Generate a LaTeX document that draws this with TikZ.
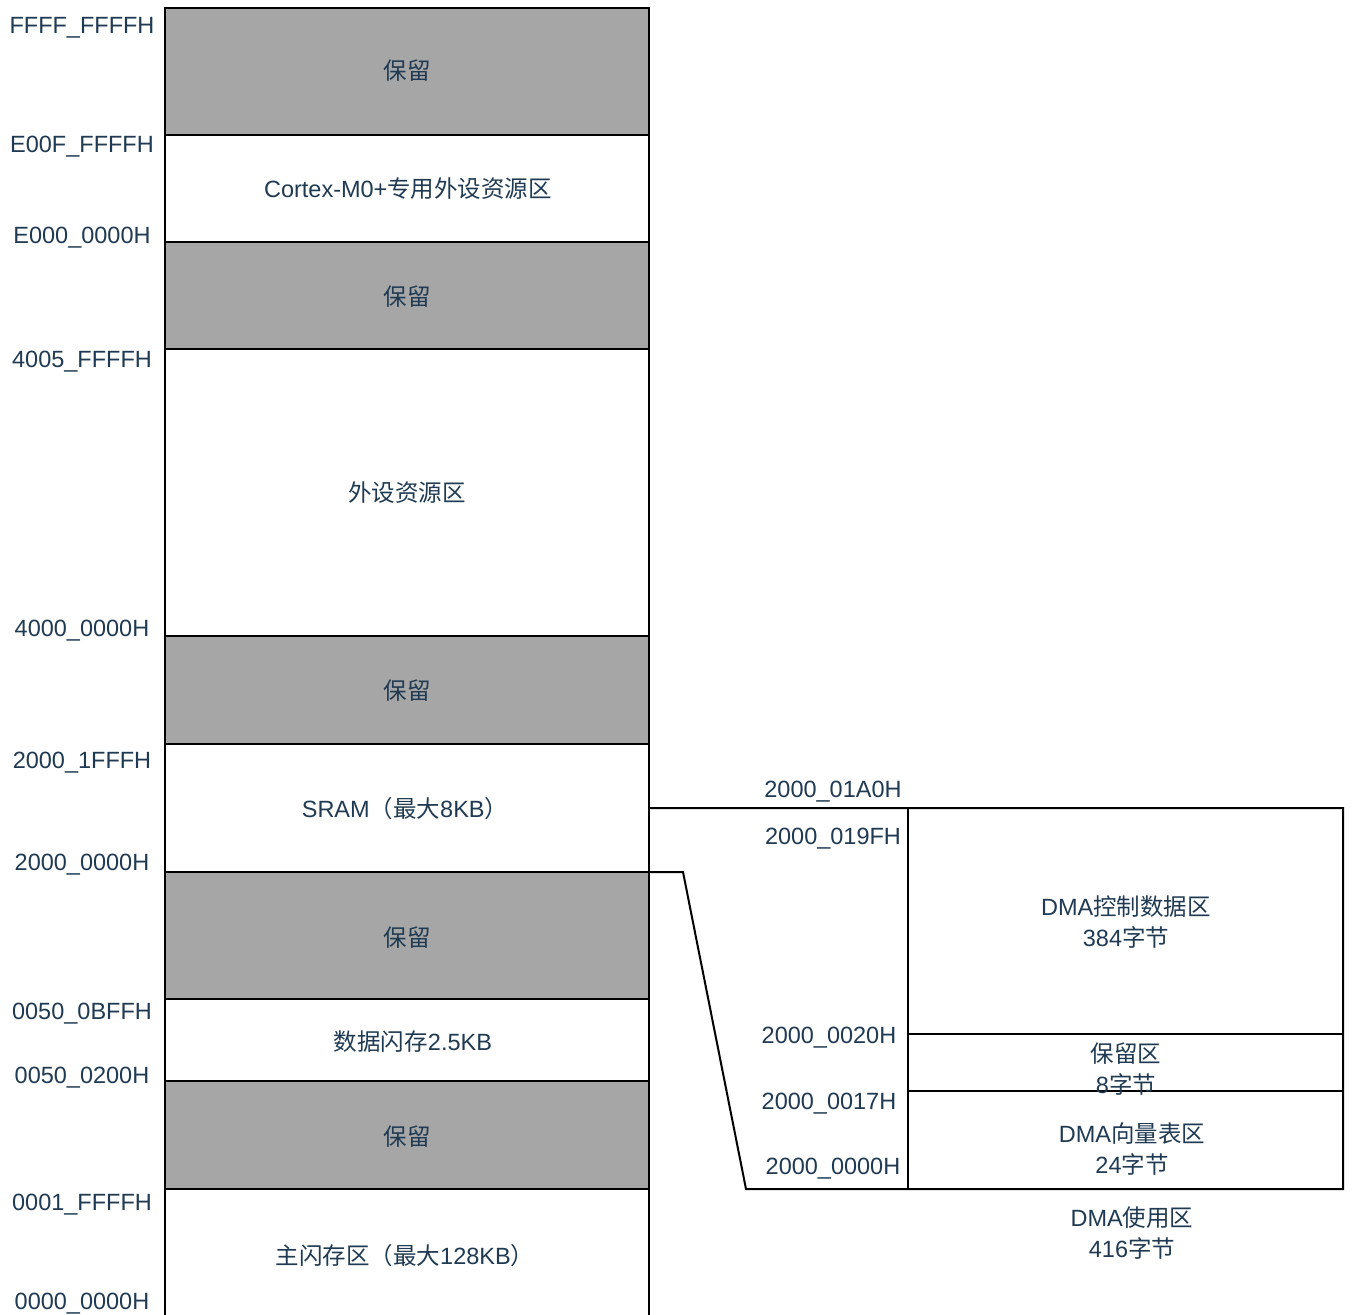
\documentclass[tikz,border=0pt]{standalone}
\usepackage{fontspec}
\setmainfont{Liberation Sans}
\newfontfamily\cjk{Noto Sans CJK SC}
\definecolor{txt}{HTML}{1F3A52}
\definecolor{resv}{HTML}{A6A6A6}
\begin{document}
\begin{tikzpicture}[x=1pt,y=-1pt,
  font=\fontsize{23.5}{31}\selectfont,
  lbl/.style={text=txt, inner sep=0pt, align=center, anchor=center},
  addr/.style={lbl, yshift=-3pt},
  edge/.style={draw=black, line width=2pt, line join=miter}]
\useasboundingbox (0,0) rectangle (1354,1314);
% reserved (gray) regions
\foreach \a/\b in {8/135,242/349,636/744,872/999,1081/1189}
  \fill[resv] (165,\a) rectangle (649,\b);
% dividers
\foreach \yy in {135,242,349,636,744,872,999,1081,1189}
  \draw[edge] (165,\yy) -- (649,\yy);
\draw[edge] (165,1330) -- (165,8) -- (649,8) -- (649,1330);
% DMA expansion
\coordinate (sa) at (649,808);
\coordinate (sb) at (649,872);
\draw[edge] (sa) -- (1343,808) -- (1343,1189) -- (746,1189) -- (683,872) -- (sb);
\draw[edge] (908,808) -- (908,1189);
\draw[edge] (908,1034) -- (1343,1034);
\draw[edge] (908,1091) -- (1343,1091);
% main region texts
\node[lbl] (r1) at (407,71) {\cjk 保留};
\node[lbl] (cm) at (408,189) {Cortex-M0+{\cjk 专用外设资源区}};
\node[lbl] (r2) at (407,297) {\cjk 保留};
\node[lbl] (pe) at (407,493) {\cjk 外设资源区};
\node[lbl] (r3) at (407,691) {\cjk 保留};
\node[lbl] (sr) at (405,809) {SRAM{\cjk （最大}8KB{\cjk ）}};
\node[lbl] (r4) at (407,938) {\cjk 保留};
\node[lbl] (df) at (413,1042) {{\cjk 数据闪存}2.5KB};
\node[lbl] (r5) at (407,1137) {\cjk 保留};
\node[lbl] (mf) at (405,1256) {{\cjk 主闪存区（最大}128KB{\cjk ）}};
% left address labels
\node[addr] (a1) at (82,25) {FFFF\_FFFFH};
\node[addr] (a2) at (82,144) {E00F\_FFFFH};
\node[addr] (a3) at (82,235) {E000\_0000H};
\node[addr] (a4) at (82,359) {4005\_FFFFH};
\node[addr] (a5) at (82,628) {4000\_0000H};
\node[addr] (a6) at (82,760) {2000\_1FFFH};
\node[addr] (a7) at (82,862) {2000\_0000H};
\node[addr] (a8) at (82,1011) {0050\_0BFFH};
\node[addr] (a9) at (82,1075) {0050\_0200H};
\node[addr] (a10) at (82,1202) {0001\_FFFFH};
\node[addr] (a11) at (82,1301) {0000\_0000H};
% right address labels
\node[addr] (b1) at (833,789) {2000\_01A0H};
\node[addr] (b2) at (833,836) {2000\_019FH};
\node[addr] (b3) at (829,1035) {2000\_0020H};
\node[addr] (b4) at (829,1101) {2000\_0017H};
\node[addr] (b5) at (833,1166) {2000\_0000H};
% DMA texts
\node[lbl] (d1) at (1126,922) {DMA{\cjk 控制数据区}\\384{\cjk 字节}};
\node[lbl] (d2) at (1126,1069) {{\cjk 保留区}\\8{\cjk 字节}};
\node[lbl] (d3) at (1132,1149) {DMA{\cjk 向量表区}\\24{\cjk 字节}};
\node[lbl] (d4) at (1132,1233) {DMA{\cjk 使用区}\\416{\cjk 字节}};
\end{tikzpicture}
\end{document}
